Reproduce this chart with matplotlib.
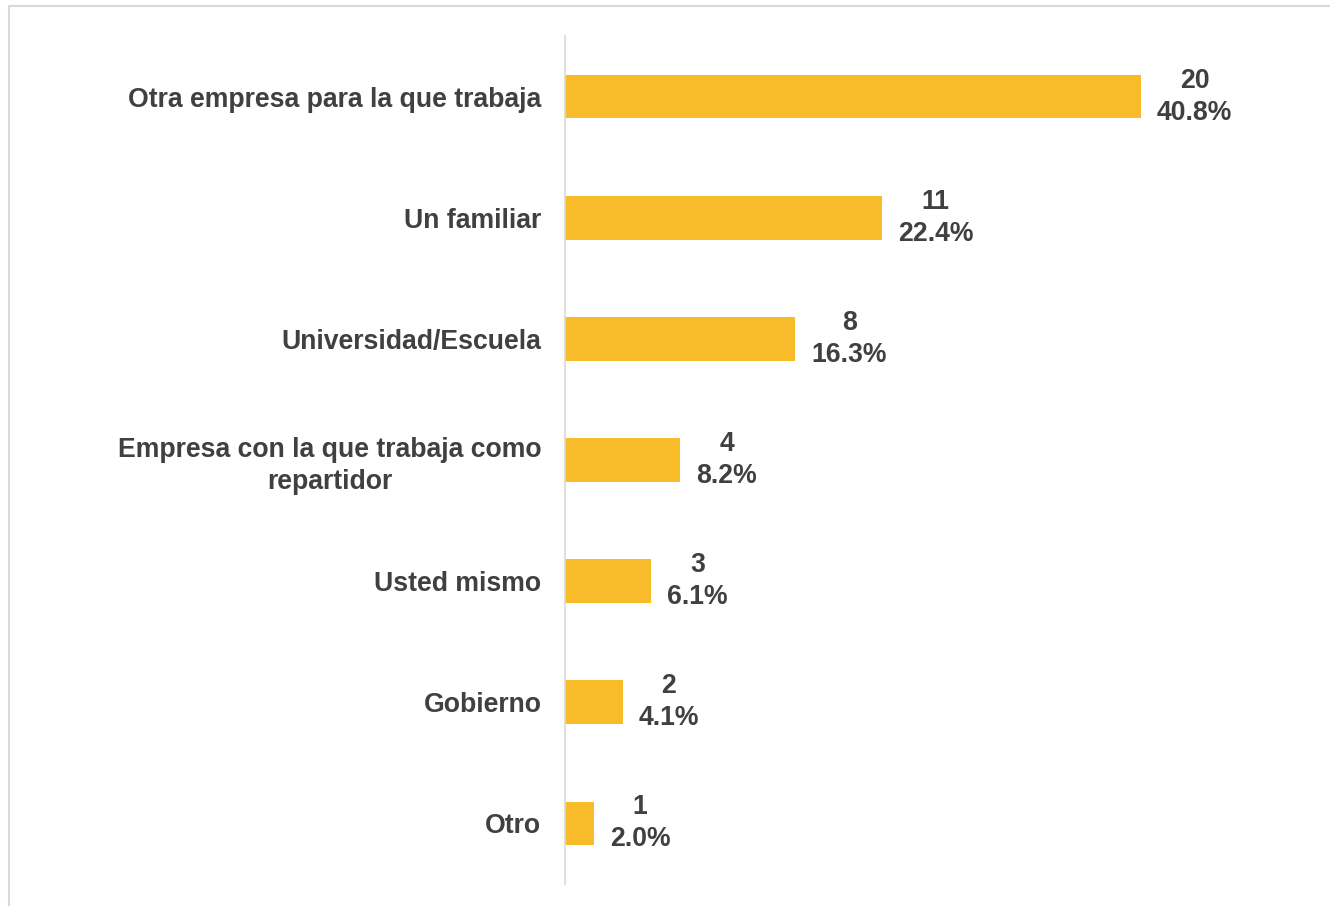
import matplotlib.pyplot as plt
from matplotlib.patches import Rectangle

plt.rcParams['font.family'] = ['Liberation Sans', 'DejaVu Sans']

categorias = ['Otra empresa para la que trabaja', 'Un familiar', 'Universidad/Escuela',
              'Empresa con la que trabaja como\nrepartidor', 'Usted mismo', 'Gobierno', 'Otro']
valores = [20, 11, 8, 4, 3, 2, 1]
porcentajes = ['40.8%', '22.4%', '16.3%', '8.2%', '6.1%', '4.1%', '2.0%']

fig = plt.figure(figsize=(13.3, 9.06), dpi=100)
# chart border
fig.patches.append(Rectangle((9 / 1330, -0.1), 1.2, 1.1 - 6 / 906, transform=fig.transFigure,
                             fill=False, edgecolor='#D9D9D9', linewidth=1.5))

ax = fig.add_axes([565 / 1330, 22 / 906, 1 - 565 / 1330, 848 / 906])
pos = list(range(len(categorias)))
ax.barh(pos, valores, height=0.36, color='#F8BB2A')
ax.set_ylim(len(categorias) - 0.5, -0.5)
ax.set_xlim(0, 26.56)

for p, v, pc in zip(pos, valores, porcentajes):
    ax.annotate(f'{v}\n{pc}', (v, p), xytext=(16, 0), textcoords='offset pixels',
                ha='left', va='center', multialignment='center',
                fontsize=19.2, fontweight='bold', color='#404040', linespacing=1.3)

ax.set_yticks(pos)
ax.set_yticklabels(categorias, fontsize=19.2, fontweight='bold', color='#404040',
                   multialignment='center', linespacing=1.3)
ax.tick_params(axis='y', length=0, pad=17)
ax.set_xticks([])
for s in ['top', 'right', 'bottom']:
    ax.spines[s].set_visible(False)
ax.spines['left'].set_color('#D9D9D9')
ax.spines['left'].set_linewidth(1.2)

fig.savefig('out.png', dpi=100)
